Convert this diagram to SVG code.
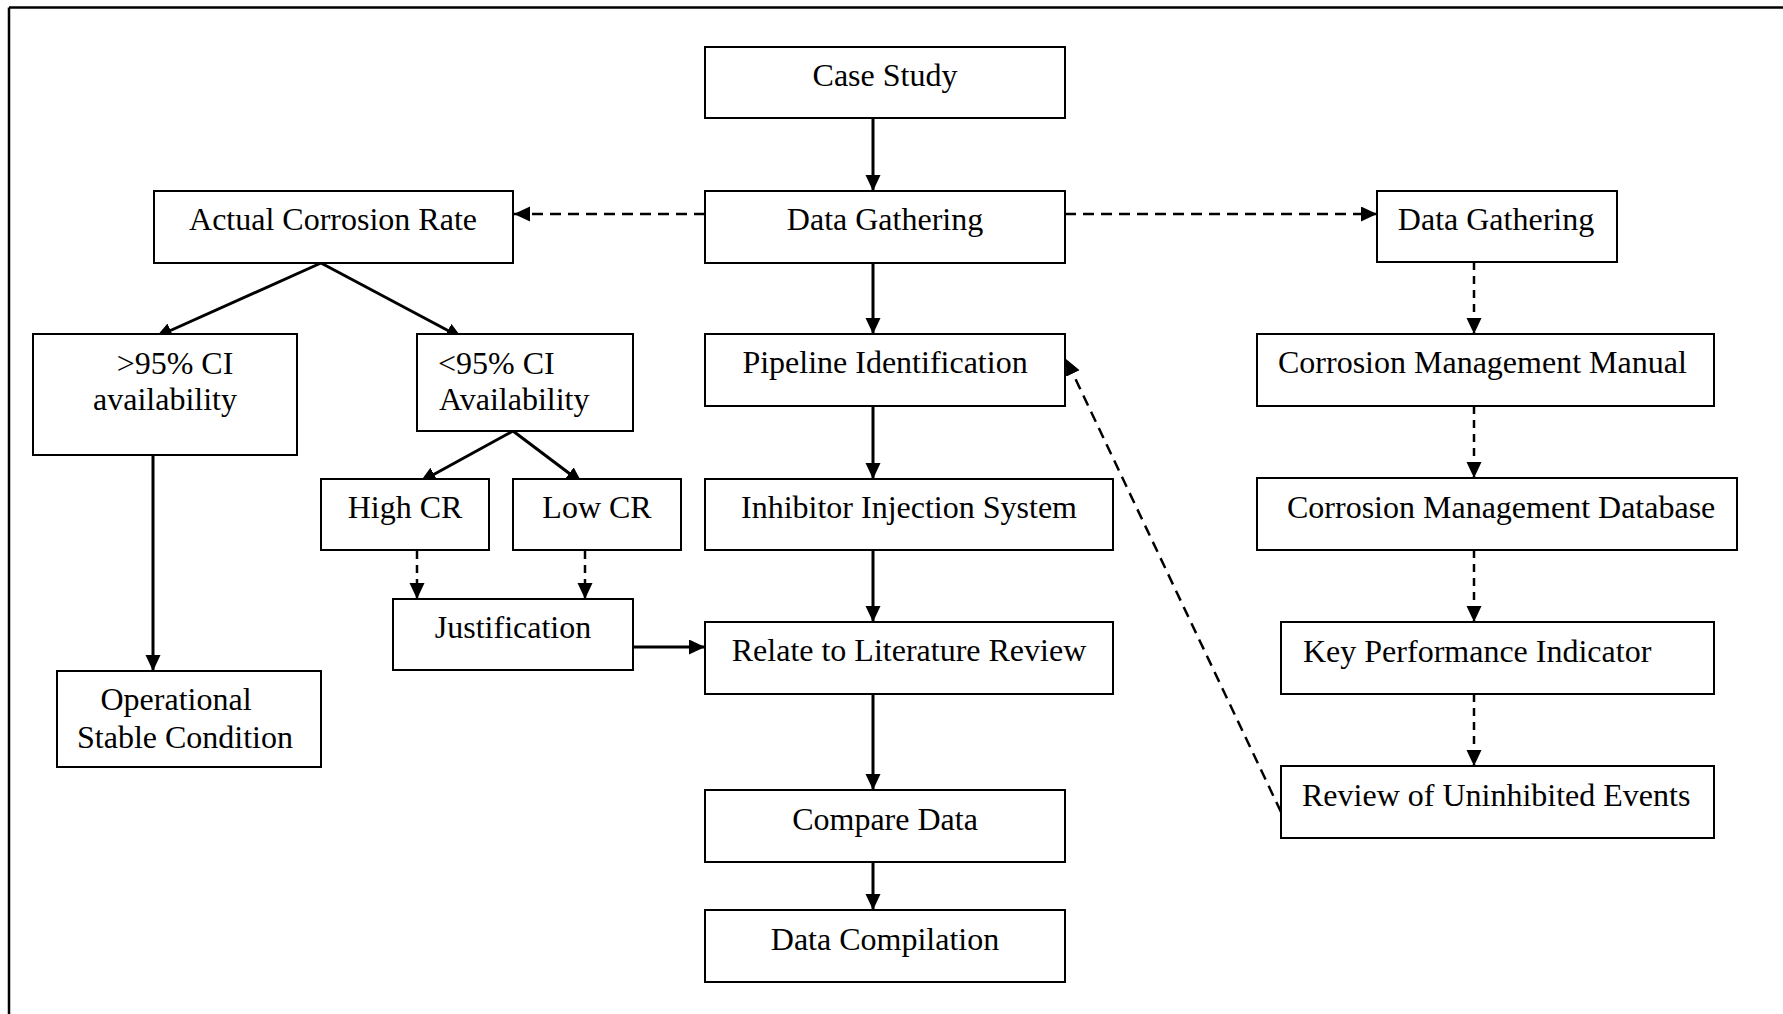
<svg xmlns="http://www.w3.org/2000/svg" width="1783" height="1014" viewBox="0 0 1783 1014">
<style>
.box{fill:#fff;stroke:#000;stroke-width:2}
.t{font-family:"Liberation Serif","Times New Roman",serif;font-size:32px;fill:#000}
.m{text-anchor:middle}
.c{fill:none;stroke:#000;stroke-width:3}
.d{stroke-width:2.5;stroke-dasharray:8,6}
.dl{stroke-dasharray:11,7}
</style>
<defs>
<marker id="ah" markerUnits="userSpaceOnUse" markerWidth="17" markerHeight="16" refX="16" refY="7.5" orient="auto">
<path d="M0,0 L16,7.5 L0,15 z" fill="#000"/>
</marker>
</defs>
<rect width="1783" height="1014" fill="#fff"/>
<g id="frame">
<line x1="9" y1="7.5" x2="1783" y2="7.5" stroke="#000" stroke-width="2.5"/>
<line x1="9" y1="7.5" x2="9" y2="1014" stroke="#000" stroke-width="2.5"/>
</g>
<g id="connectors">
<line class="c" x1="873" y1="118" x2="873" y2="191" marker-end="url(#ah)"/>
<line class="c" x1="873" y1="263" x2="873" y2="334" marker-end="url(#ah)"/>
<line class="c" x1="873" y1="406" x2="873" y2="479" marker-end="url(#ah)"/>
<line class="c" x1="873" y1="550" x2="873" y2="622" marker-end="url(#ah)"/>
<line class="c" x1="873" y1="694" x2="873" y2="790" marker-end="url(#ah)"/>
<line class="c" x1="873" y1="862" x2="873" y2="910" marker-end="url(#ah)"/>
<line class="c d dl" x1="705" y1="214" x2="514" y2="214" marker-end="url(#ah)"/>
<line class="c d dl" x1="1065" y1="214" x2="1377" y2="214" marker-end="url(#ah)"/>
<line class="c" x1="321" y1="263" x2="156" y2="337" marker-end="url(#ah)"/>
<line class="c" x1="321" y1="263" x2="462" y2="338" marker-end="url(#ah)"/>
<line class="c" x1="153" y1="455" x2="153" y2="671" marker-end="url(#ah)"/>
<line class="c" x1="513" y1="431" x2="420" y2="482" marker-end="url(#ah)"/>
<line class="c" x1="513" y1="431" x2="582" y2="483" marker-end="url(#ah)"/>
<line class="c d" x1="417" y1="551" x2="417" y2="599" marker-end="url(#ah)"/>
<line class="c d" x1="585" y1="551" x2="585" y2="599" marker-end="url(#ah)"/>
<line class="c" x1="633" y1="647" x2="705" y2="647" marker-end="url(#ah)"/>
<line class="c d" x1="1474" y1="262" x2="1474" y2="334" marker-end="url(#ah)"/>
<line class="c d" x1="1474" y1="406" x2="1474" y2="478" marker-end="url(#ah)"/>
<line class="c d" x1="1474" y1="550" x2="1474" y2="622" marker-end="url(#ah)"/>
<line class="c d" x1="1474" y1="694" x2="1474" y2="766" marker-end="url(#ah)"/>
<line class="c d dl" x1="1281" y1="812" x2="1066" y2="359" marker-end="url(#ah)"/>
</g>
<g id="case-study"><rect class="box" x="705" y="47" width="360" height="71"/><text class="t m" x="885" y="86">Case Study</text></g>
<g id="data-gathering"><rect class="box" x="705" y="191" width="360" height="72"/><text class="t m" x="885" y="230">Data Gathering</text></g>
<g id="actual-corrosion-rate"><rect class="box" x="154" y="191" width="359" height="72"/><text class="t m" x="333" y="230">Actual Corrosion Rate</text></g>
<g id="data-gathering-right"><rect class="box" x="1377" y="191" width="240" height="71"/><text class="t m" x="1496" y="230">Data Gathering</text></g>
<g id="ci-above"><rect class="box" x="33" y="334" width="264" height="121"/><text class="t m" x="175" y="374">&gt;95% CI</text><text class="t m" x="165" y="410">availability</text></g>
<g id="ci-below"><rect class="box" x="417" y="334" width="216" height="97"/><text class="t" x="438" y="374">&lt;95% CI</text><text class="t" x="439" y="410">Availability</text></g>
<g id="pipeline-identification"><rect class="box" x="705" y="334" width="360" height="72"/><text class="t m" x="885" y="373">Pipeline Identification</text></g>
<g id="corrosion-management-manual"><rect class="box" x="1257" y="334" width="457" height="72"/><text class="t" x="1278" y="373">Corrosion Management Manual</text></g>
<g id="high-cr"><rect class="box" x="321" y="479" width="168" height="71"/><text class="t m" x="405" y="518">High CR</text></g>
<g id="low-cr"><rect class="box" x="513" y="479" width="168" height="71"/><text class="t m" x="597" y="518">Low CR</text></g>
<g id="inhibitor-injection-system"><rect class="box" x="705" y="479" width="408" height="71"/><text class="t m" x="909" y="518">Inhibitor Injection System</text></g>
<g id="corrosion-management-database"><rect class="box" x="1257" y="478" width="480" height="72"/><text class="t" x="1287" y="518">Corrosion Management Database</text></g>
<g id="justification"><rect class="box" x="393" y="599" width="240" height="71"/><text class="t m" x="513" y="638">Justification</text></g>
<g id="relate-literature-review"><rect class="box" x="705" y="622" width="408" height="72"/><text class="t m" x="909" y="661">Relate to Literature Review</text></g>
<g id="key-performance-indicator"><rect class="box" x="1281" y="622" width="433" height="72"/><text class="t" x="1303" y="662">Key Performance Indicator</text></g>
<g id="operational-stable-condition"><rect class="box" x="57" y="671" width="264" height="96"/><text class="t m" x="176" y="710">Operational</text><text class="t m" x="185" y="748">Stable Condition</text></g>
<g id="review-uninhibited-events"><rect class="box" x="1281" y="766" width="433" height="72"/><text class="t" x="1302" y="806">Review of Uninhibited Events</text></g>
<g id="compare-data"><rect class="box" x="705" y="790" width="360" height="72"/><text class="t m" x="885" y="830">Compare Data</text></g>
<g id="data-compilation"><rect class="box" x="705" y="910" width="360" height="72"/><text class="t m" x="885" y="950">Data Compilation</text></g>
</svg>
